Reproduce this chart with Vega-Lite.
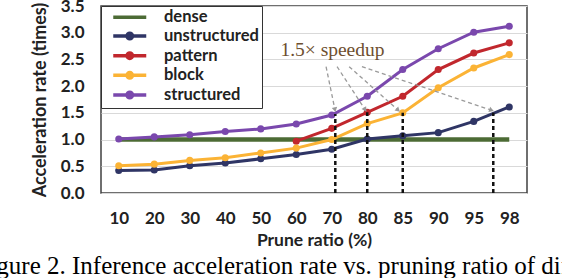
{
  "$schema": "https://vega.github.io/schema/vega-lite/v6.json",
  "width": 426,
  "height": 187,
  "autosize": {"type": "none"},
  "padding": {"left": 101, "top": 6, "right": 35, "bottom": 85},
  "background": "white",
  "config": {
    "view": {"stroke": "#404040", "strokeWidth": 1.5},
    "axis": {"labelFont": "Lato", "labelFontWeight": "bold", "labelFontSize": 17, "labelColor": "#222222", "titleFont": "Lato", "titleFontWeight": "bold", "titleFontSize": 17.5, "titleColor": "#222222", "ticks": false, "domain": false, "labelOverlap": false}
  },
  "title": {
    "text": "Figure 2. Inference acceleration rate vs. pruning ratio of different pruning schemes",
    "orient": "bottom", "anchor": "start", "frame": "group", "dx": -125.5, "offset": 24.5, "baseline": "alphabetic",
    "font": "Liberation Serif", "fontSize": 25, "fontWeight": "normal", "color": "#000000"
  },
  "datasets": {
    "rates": [
      {"idx": 1, "dense": 1, "unstructured": 0.42, "pattern": null, "block": 0.51, "structured": 1.01},
      {"idx": 2, "dense": 1, "unstructured": 0.43, "pattern": null, "block": 0.54, "structured": 1.05},
      {"idx": 3, "dense": 1, "unstructured": 0.51, "pattern": null, "block": 0.61, "structured": 1.09},
      {"idx": 4, "dense": 1, "unstructured": 0.56, "pattern": null, "block": 0.66, "structured": 1.15},
      {"idx": 5, "dense": 1, "unstructured": 0.64, "pattern": null, "block": 0.75, "structured": 1.2},
      {"idx": 6, "dense": 1, "unstructured": 0.72, "pattern": 0.97, "block": 0.84, "structured": 1.29},
      {"idx": 7, "dense": 1, "unstructured": 0.82, "pattern": 1.21, "block": 1.0, "structured": 1.46},
      {"idx": 8, "dense": 1, "unstructured": 1.01, "pattern": 1.51, "block": 1.3, "structured": 1.81},
      {"idx": 9, "dense": 1, "unstructured": 1.07, "pattern": 1.81, "block": 1.5, "structured": 2.31},
      {"idx": 10, "dense": 1, "unstructured": 1.13, "pattern": 2.31, "block": 1.97, "structured": 2.7},
      {"idx": 11, "dense": 1, "unstructured": 1.34, "pattern": 2.62, "block": 2.34, "structured": 3.01},
      {"idx": 12, "dense": 1, "unstructured": 1.61, "pattern": 2.81, "block": 2.59, "structured": 3.12}
    ],
    "cuts": [
      {"idx": 7.1, "rate": 0, "rate2": 1.48},
      {"idx": 8, "rate": 0, "rate2": 1.51},
      {"idx": 9, "rate": 0, "rate2": 1.5},
      {"idx": 11.55, "rate": 0, "rate2": 1.5}
    ],
    "arrows": [
      {"idx": 6.84, "rate": 2.365, "idx2": 7.09, "rate2": 1.56},
      {"idx": 7.15, "rate": 2.365, "idx2": 7.94, "rate2": 1.56},
      {"idx": 7.49, "rate": 2.365, "idx2": 8.87, "rate2": 1.55},
      {"idx": 7.85, "rate": 2.365, "idx2": 11.5, "rate2": 1.55}
    ],
    "note": [
      {"idx": 7.02, "rate": 2.56, "label": "1.5× speedup"}
    ]
  },
  "encoding": {
    "x": {"field": "idx", "type": "quantitative",
      "scale": {"domain": [0.5, 12.5], "nice": false, "zero": false},
      "axis": {"values": [1, 2, 3, 4, 5, 6, 7, 8, 9, 10, 11, 12], "labelExpr": "['10','20','30','40','50','60','70','80','85','90','95','98'][datum.value - 1]", "grid": false, "labelOverlap": false, "labelPadding": 17, "title": "Prune ratio (%)", "titlePadding": 5.5, "labelFlush": false}},
    "y": {"field": "rate", "type": "quantitative",
      "scale": {"domain": [0, 3.5], "nice": false},
      "axis": {"values": [0, 0.5, 1, 1.5, 2, 2.5, 3, 3.5], "format": ".1f", "grid": true, "gridColor": "#d9d9d9", "gridWidth": 1, "labelOverlap": false, "labelFlush": false, "labelPadding": 17, "title": "Acceleration rate (times)", "titleFontSize": 18, "titlePadding": 11}}
  },
  "layer": [
    {
      "data": {"name": "rates"},
      "transform": [
        {"fold": ["dense"], "as": ["series", "rate"]}
      ],
      "mark": {"type": "line", "strokeWidth": 4.5},
      "encoding": {
        "color": {"field": "series", "type": "nominal",
          "scale": {"domain": ["dense", "unstructured", "pattern", "block", "structured"], "range": ["#4c6b35", "#2f3565", "#c1272d", "#fbb335", "#7a48ad"]},
          "legend": {"orient": "top-left", "offset": 0, "title": null, "padding": 3, "strokeColor": "#333333", "fillColor": "white",
            "labelFont": "Lato", "labelFontWeight": "bold", "labelFontSize": 16.5, "labelColor": "#222222",
            "symbolSize": 100, "symbolStrokeWidth": 3.5, "symbolOffset": 17.5, "labelOffset": 26, "rowPadding": -0.3,
            "labelExpr": "datum.label + '     '",
            "encode": {"symbols": {"update": {
              "shape": {"signal": "datum.value === 'dense' ? 'M-3.3,0L3.3,0' : 'M-3.3,0L3.3,0M-0.55,0A0.55,0.55,0,1,1,0.55,0A0.55,0.55,0,1,1,-0.55,0Z'"},
              "fill": {"scale": "color", "field": "value"}
            }}}
          }}
      }
    },
    {
      "data": {"name": "rates"},
      "transform": [
        {"fold": ["unstructured", "pattern", "block", "structured"], "as": ["series", "rate"]},
        {"filter": "isValid(datum.rate)"}
      ],
      "mark": {"type": "line", "strokeWidth": 3, "point": {"filled": true, "size": 50}},
      "encoding": {
        "color": {"field": "series", "type": "nominal"}
      }
    },
    {
      "data": {"name": "cuts"},
      "mark": {"type": "rule", "color": "#111111", "strokeWidth": 2.5, "strokeDash": [4, 3]},
      "encoding": {
        "y2": {"field": "rate2"}
      }
    },
    {
      "data": {"name": "arrows"},
      "mark": {"type": "rule", "color": "#9a9a9a", "strokeWidth": 1.3, "strokeDash": [4, 3]},
      "encoding": {
        "x2": {"field": "idx2"},
        "y2": {"field": "rate2"}
      }
    },
    {
      "data": {"values": [{"idx": 7.09, "rate": 1.56}]},
      "mark": {"type": "point", "shape": "triangle-down", "filled": true, "color": "#9a9a9a", "size": 30, "opacity": 1, "angle": -11.6}
    },
    {
      "data": {"values": [{"idx": 7.94, "rate": 1.56}]},
      "mark": {"type": "point", "shape": "triangle-down", "filled": true, "color": "#9a9a9a", "size": 30, "opacity": 1, "angle": -32.5}
    },
    {
      "data": {"values": [{"idx": 8.87, "rate": 1.55}]},
      "mark": {"type": "point", "shape": "triangle-down", "filled": true, "color": "#9a9a9a", "size": 30, "opacity": 1, "angle": -47.4}
    },
    {
      "data": {"values": [{"idx": 11.5, "rate": 1.55}]},
      "mark": {"type": "point", "shape": "triangle-down", "filled": true, "color": "#9a9a9a", "size": 30, "opacity": 1, "angle": -70.9}
    },
    {
      "data": {"name": "note"},
      "mark": {"type": "text", "font": "Liberation Serif", "fontSize": 19.5, "color": "#6e4f30", "align": "center", "baseline": "alphabetic"},
      "encoding": {
        "text": {"field": "label"}
      }
    }
  ]
}
